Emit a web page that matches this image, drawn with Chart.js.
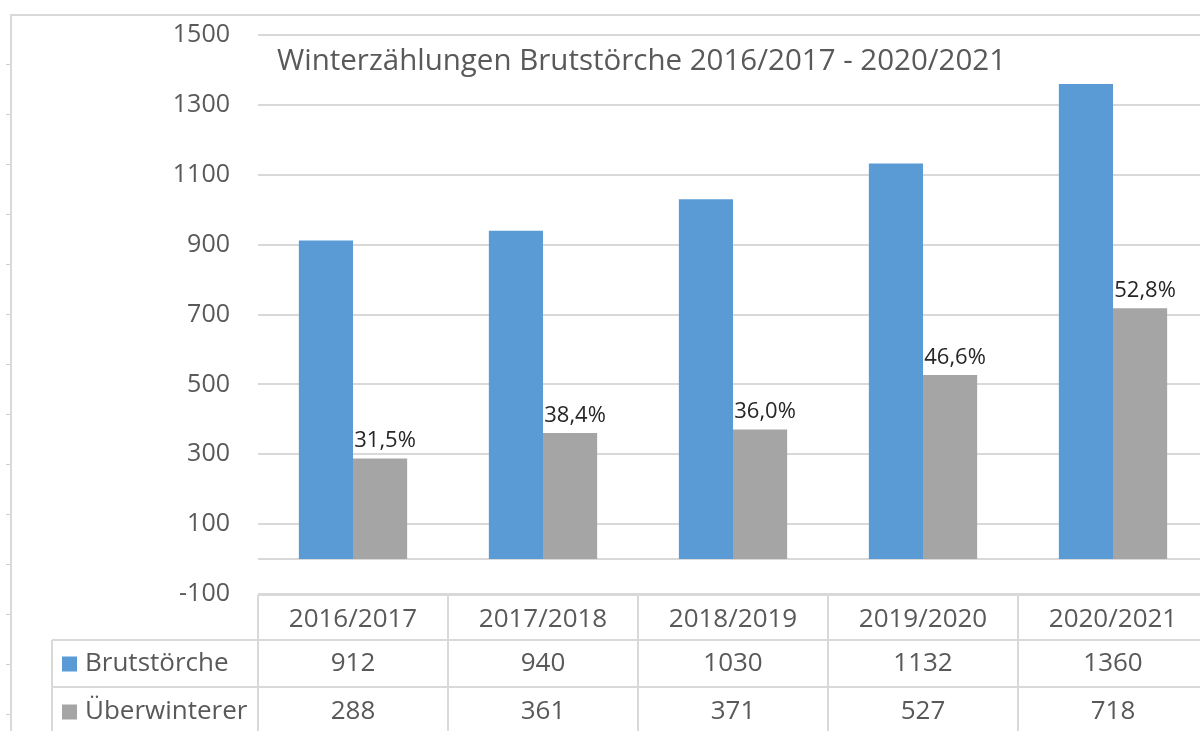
<!DOCTYPE html>
<html lang="de">
<head>
<meta charset="utf-8">
<script src="https://cdn.jsdelivr.net/npm/chart.js@4/dist/chart.umd.min.js"></script>
<style>
  html, body { margin: 0; padding: 0; background: #fff; overflow: hidden; }
  body { width: 1200px; height: 731px; position: relative; }
  #frame { position: absolute; left: 10px; top: 14px; width: 1200px; height: 730px;
           border-top: 2px solid #d9d9d9; border-left: 2px solid #d9d9d9; }
  #marks { position: absolute; left: 6px; top: 64px; width: 4px; height: 667px;
           background: repeating-linear-gradient(to bottom, #d0d0d0 0 1px, transparent 1px 50px); }
  #wrap { position: absolute; left: 0; top: 0; width: 1212px; height: 731px; }
</style>
</head>
<body>
<div id="frame"></div>
<div id="marks"></div>
<div id="wrap"><canvas id="chart"></canvas></div>
<script>
// Winterzählungen
const jahre = ['2016/2017', '2017/2018', '2018/2019', '2019/2020', '2020/2021'];
const brutstoerche = [912, 940, 1030, 1132, 1360];
const ueberwinterer = [288, 361, 371, 527, 718];
const anteilLabels = ['31,5%', '38,4%', '36,0%', '46,6%', '52,8%'];
const titel = 'Winterzählungen Brutstörche 2016/2017 - 2020/2021';

const BLAU = '#5b9bd5', GRAU = '#a5a5a5', LINIE = '#d9d9d9', TEXT = '#595959';
const FONT = '"Open Sans", sans-serif';

// Titel, Nulllinie, Prozentwerte und Datentabelle
const extras = {
  id: 'extras',
  beforeDatasetsDraw(chart) {
    const { ctx, chartArea: a, scales: { y } } = chart;
    ctx.save();
    ctx.strokeStyle = LINIE; ctx.lineWidth = 2;
    const y0 = Math.round(y.getPixelForValue(0));
    ctx.beginPath(); ctx.moveTo(a.left, y0); ctx.lineTo(a.right, y0); ctx.stroke();
    ctx.restore();
  },
  afterDraw(chart) {
    const { ctx, chartArea: a, scales: { x } } = chart;
    ctx.save();
    // Titel
    ctx.fillStyle = TEXT;
    ctx.font = `29.5px ${FONT}`;
    ctx.textAlign = 'left'; ctx.textBaseline = 'middle';
    ctx.fillText(titel, a.left + 19, 62);

    // Prozent über den grauen Balken
    const meta = chart.getDatasetMeta(1);
    ctx.fillStyle = '#262626';
    ctx.font = `22px ${FONT}`;
    ctx.textAlign = 'center'; ctx.textBaseline = 'alphabetic';
    meta.data.forEach((bar, i) => ctx.fillText(anteilLabels[i], bar.x + 5, bar.y - 11));

    // Datentabelle
    const w = x.getPixelForValue(1) - x.getPixelForValue(0);
    const top = a.bottom + 1, r1 = top + 45, r2 = r1 + 47, r3 = r2 + 47;
    const legLeft = 52;
    ctx.strokeStyle = LINIE; ctx.lineWidth = 2;
    ctx.beginPath();
    ctx.moveTo(a.left, top); ctx.lineTo(a.right, top);
    ctx.moveTo(legLeft, r1); ctx.lineTo(a.right, r1);
    ctx.moveTo(legLeft, r2); ctx.lineTo(a.right, r2);
    ctx.moveTo(legLeft, r1); ctx.lineTo(legLeft, r3);
    for (let i = 0; i <= jahre.length; i++) {
      const xx = Math.round(x.getPixelForValue(i) - w / 2);
      ctx.moveTo(xx, top); ctx.lineTo(xx, r3);
    }
    ctx.stroke();

    ctx.fillStyle = TEXT;
    ctx.font = `26px ${FONT}`;
    ctx.textAlign = 'center'; ctx.textBaseline = 'middle';
    jahre.forEach((j, i) => {
      const cx = x.getPixelForValue(i);
      ctx.fillText(j, cx, (top + r1) / 2 + 2);
      ctx.fillText(String(brutstoerche[i]), cx, (r1 + r2) / 2);
      ctx.fillText(String(ueberwinterer[i]), cx, (r2 + r3) / 2 + 1);
    });
    // Legendenspalte
    chart.data.datasets.forEach((ds, k) => {
      const cy = k === 0 ? (r1 + r2) / 2 : (r2 + r3) / 2 + 1;
      ctx.fillStyle = ds.backgroundColor;
      ctx.fillRect(legLeft + 10, cy - 7, 15, 15);
      ctx.fillStyle = TEXT;
      ctx.textAlign = 'left';
      ctx.fillText(ds.label, legLeft + 33, cy);
    });
    ctx.restore();
  }
};

new Chart(document.getElementById('chart'), {
  type: 'bar',
  data: {
    labels: jahre,
    datasets: [
      { label: 'Brutstörche', data: brutstoerche, backgroundColor: BLAU },
      { label: 'Überwinterer', data: ueberwinterer, backgroundColor: GRAU }
    ]
  },
  options: {
    responsive: true,
    maintainAspectRatio: false,
    animation: false,
    layout: { padding: { top: 35, bottom: 137, left: 0, right: 4 } },
    datasets: { bar: { categoryPercentage: 0.57, barPercentage: 1.0, borderWidth: 0 } },
    plugins: { legend: { display: false }, tooltip: { enabled: false }, title: { display: false } },
    scales: {
      x: { display: false },
      y: {
        min: -100, max: 1500,
        afterFit(scale) { scale.width = 258; scale.paddingTop = 0; scale.paddingBottom = 0; },
        border: { display: false },
        grid: { color: LINIE, lineWidth: 2, drawTicks: false },
        ticks: { stepSize: 200, padding: 28, color: TEXT, font: { family: FONT, size: 25 },
                 callback: v => String(v) }
      }
    }
  },
  plugins: [extras]
});
</script>
</body>
</html>
